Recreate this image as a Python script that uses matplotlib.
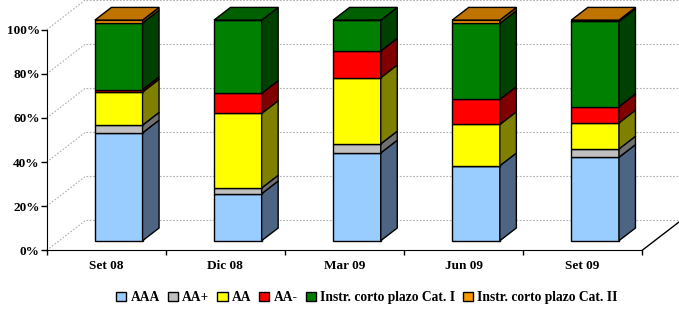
import numpy as np
import matplotlib.pyplot as plt
from matplotlib.patches import Polygon, Patch
from matplotlib.ticker import PercentFormatter

categories = ['Set 08', 'Dic 08', 'Mar 09', 'Jun 09', 'Set 09']
series = ['AAA', 'AA+', 'AA', 'AA-', 'Instr. corto plazo Cat. I', 'Instr. corto plazo Cat. II']
aaa = [48.9, 21.3, 39.8, 34.0, 37.8]
aa_plus = [3.5, 2.6, 4.1, 0.0, 3.8]
aa = [15.0, 33.8, 30.0, 18.7, 11.8]
aa_minus = [1.1, 9.1, 12.1, 11.4, 7.4]
cat1 = [30.2, 33.2, 14.0, 34.4, 38.6]
cat2 = [1.3, 0.0, 0.0, 1.5, 0.6]
values = [aaa, aa_plus, aa, aa_minus, cat1, cat2]

# front, side, top colours (Excel 3D look)
front = ['#99CCFF', '#C0C0C0', '#FFFF00', '#FF0000', '#008000', '#FF9900']
side = ['#4D6482', '#707070', '#808000', '#800000', '#004000', '#7F4C00']
top = ['#7A9CC6', '#A0A0A0', '#C0C000', '#C00000', '#006000', '#BF7300']

plt.rcParams['font.family'] = 'Liberation Serif'
plt.rcParams['font.weight'] = 'bold'

fig = plt.figure(figsize=(6.79, 3.11), dpi=100)
ax = fig.add_axes([0, 0, 1, 1])
PX_X, PX_Y = 119.1, 2.206          # pixels per category / per percent
ax.set_xlim(-0.5 - 46.7 / PX_X, -0.5 + 632.3 / PX_X)
ax.set_ylim(-60.7 / PX_Y, 250.3 / PX_Y)


def depth(px_up):
    # oblique projection offset in data units
    return 1.3 * px_up / PX_X, px_up / PX_Y


fx, fy = depth(30)      # floor depth
bx, by = depth(9.6)     # bar front plane
dx, dy = depth(12.7)    # bar depth
grid_kw = dict(color='#B0B0B0', lw=0.8, ls=(0, (1.5, 1.5)), zorder=1)

# back wall gridlines and left wall diagonals
for v in range(0, 101, 20):
    ax.plot([-0.5 + fx, 4.5 + fx + 0.1], [v + fy, v + fy], **grid_kw)
    ax.plot([-0.5, -0.5 + fx], [v, v + fy], **grid_kw)
ax.plot([4.5, 4.5 + fx], [0, fy], color='black', lw=1, zorder=2)

x = np.arange(len(categories))
w = 0.4
cum = np.zeros(len(categories))
for i, vals in enumerate(values):
    vals = np.array(vals)
    ax.bar(x + bx, vals, width=w, bottom=cum + by, color=front[i],
           edgecolor='black', lw=1, zorder=3)
    for j in range(len(categories)):
        if vals[j] <= 0:
            continue
        x1 = x[j] + bx + w / 2
        y0 = cum[j] + by
        y1 = y0 + vals[j]
        ax.add_patch(Polygon([(x1, y0), (x1 + dx, y0 + dy), (x1 + dx, y1 + dy), (x1, y1)],
                             closed=True, fc=side[i], ec='black', lw=1, zorder=3))
    cum += vals

# top faces, coloured by the highest non-empty segment
for j in range(len(categories)):
    last = max(i for i in range(len(values)) if values[i][j] > 0)
    x0 = x[j] + bx - w / 2
    x1 = x0 + w
    yt = cum[j] + by
    ax.add_patch(Polygon([(x0, yt), (x1, yt), (x1 + dx, yt + dy), (x0 + dx, yt + dy)],
                         closed=True, fc=top[last], ec='black', lw=1, zorder=3))

# axes
for s in ['top', 'right']:
    ax.spines[s].set_visible(False)
ax.spines['left'].set_position(('data', -0.5))
ax.spines['left'].set_bounds(0, 100)
ax.spines['bottom'].set_position(('data', 0))
ax.spines['bottom'].set_bounds(-0.5, 4.5)
ax.set_yticks(range(0, 101, 20))
ax.yaxis.set_major_formatter(PercentFormatter(decimals=0))
ax.tick_params(axis='y', length=4, width=1, pad=1, labelsize=9.5)
ax.set_xticks(np.arange(-0.5, 5, 1))
ax.set_xticklabels([])
ax.tick_params(axis='x', which='major', length=3.5, width=1)
ax.set_xticks(x, minor=True)
ax.set_xticklabels(categories, minor=True)
ax.tick_params(axis='x', which='minor', length=0, pad=7, labelsize=9.5)

handles = [Patch(fc=front[i], ec='black', lw=1) for i in range(len(series))]
fig.legend(handles, series, loc='center', bbox_to_anchor=(367 / 679, 1 - 297.7 / 311),
           ncol=6, frameon=False, prop={'family': 'Liberation Serif', 'weight': 'bold', 'size': 9.75},
           handlelength=0.75, handleheight=0.75, handletextpad=0.3, columnspacing=0.6)

fig.savefig('out.png', dpi=100)
